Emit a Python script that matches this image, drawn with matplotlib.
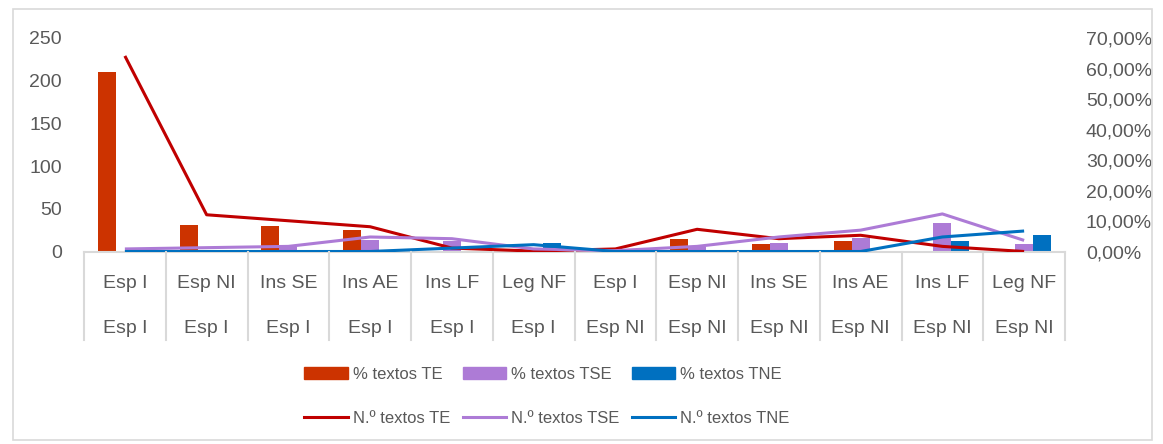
import matplotlib
matplotlib.use("Agg")
import matplotlib.pyplot as plt
import numpy as np
from matplotlib.lines import Line2D
from matplotlib.patches import Rectangle, Patch
from matplotlib.ticker import FuncFormatter
from matplotlib.transforms import blended_transform_factory

# --- data -------------------------------------------------------------
level1 = ["Esp I", "Esp NI", "Ins SE", "Ins AE", "Ins LF", "Leg NF",
          "Esp I", "Esp NI", "Ins SE", "Ins AE", "Ins LF", "Leg NF"]
level2 = ["Esp I"] * 6 + ["Esp NI"] * 6

pct_te = [58.8, 8.8, 8.5, 6.9, 0.3, 0.0, 0.0, 4.15, 2.6, 3.4, 0.3, 0.0]
pct_tse = [0.3, 0.5, 1.5, 3.7, 3.4, 0.4, 0.2, 1.4, 2.9, 4.5, 9.5, 2.6]
pct_tne = [0.0, 0.0, 0.0, 0.0, 0.0, 2.8, 0.0, 0.0, 0.0, 0.0, 3.5, 5.3]

n_te = [229, 43, 36, 29, 4, 0.5, 3, 26, 15, 19, 6, 0]
n_tse = [3, 4.5, 6, 17, 15, 3, 1, 6, 17, 25, 44, 13]
n_tne = [0, 0, 0, 0, 4, 8, 0, 0, 0, 0, 17, 24]

left_ticks = [0, 50, 100, 150, 200, 250]
right_ticks = [0, 10, 20, 30, 40, 50, 60, 70]

# --- style ------------------------------------------------------------
plt.rcParams["font.family"] = ["Liberation Sans", "DejaVu Sans"]
text_col = "#595959"
grid_col = "#D9D9D9"
c_te_bar, c_te_line = "#CC3300", "#C00000"
c_tse = "#AD7BD6"
c_tne = "#0070C0"
tick_fs = 14
leg_fs = 12

W, H = 1163, 444
fig = plt.figure(figsize=(W / 100, H / 100), dpi=100)

x0, x1 = 84, 1065
y_top, y_base = 38, 251.5
ax = fig.add_axes([x0 / W, 1 - y_base / H, (x1 - x0) / W, (y_base - y_top) / H])
ax2 = ax.twinx()
ax.set_zorder(ax2.get_zorder() + 1)
ax.patch.set_visible(False)

x = np.arange(len(level1))
bw = 0.22

# percentage bars on the right axis
ax2.bar(x - bw, pct_te, bw, color=c_te_bar, zorder=2)
ax2.bar(x, pct_tse, bw, color=c_tse, zorder=2)
ax2.bar(x + bw, pct_tne, bw, color=c_tne, zorder=2)

# counts as lines on the left axis
lw = 2.2
ax.plot(x, n_te, color=c_te_line, lw=lw, solid_capstyle="butt", zorder=3)
ax.plot(x, n_tse, color=c_tse, lw=lw, solid_capstyle="butt", zorder=3)
ax.plot(x, n_tne, color=c_tne, lw=lw, solid_capstyle="butt", zorder=4)

ax.set_xlim(-0.5, len(level1) - 0.5)
ax.set_ylim(0, 250)
ax2.set_ylim(0, 70)
ax.set_yticks(left_ticks)
ax2.set_yticks(right_ticks)
ax2.yaxis.set_major_formatter(FuncFormatter(lambda v, p: f"{v:.2f}".replace(".", ",") + "%"))
ax.set_xticks([])

for a in (ax, ax2):
    for s in a.spines.values():
        s.set_visible(False)
    a.tick_params(axis="both", length=0, labelsize=tick_fs, labelcolor=text_col)
ax.tick_params(axis="y", pad=16)
ax2.tick_params(axis="y", pad=15)

# category axis: baseline, dividers and two label rows
trans = blended_transform_factory(ax.transData, fig.transFigure)
fig.add_artist(Line2D([-0.5, len(level1) - 0.5], [1 - 252 / H] * 2, transform=trans,
                      color=grid_col, lw=1.5, zorder=1))
for b in np.arange(-0.5, len(level1), 1.0):
    fig.add_artist(Line2D([b, b], [1 - 252 / H, 1 - 340 / H], transform=trans,
                          color=grid_col, lw=1.5))
for i, (l1, l2) in enumerate(zip(level1, level2)):
    fig.text(i, 1 - 288 / H, l1, transform=trans, ha="center", va="baseline",
             fontsize=tick_fs, color=text_col)
    fig.text(i, 1 - 333 / H, l2, transform=trans, ha="center", va="baseline",
             fontsize=tick_fs, color=text_col)

# legend
handles = [
    Patch(color=c_te_bar), Line2D([], [], color=c_te_line, lw=lw),
    Patch(color=c_tse), Line2D([], [], color=c_tse, lw=lw),
    Patch(color=c_tne), Line2D([], [], color=c_tne, lw=lw),
]
labels = ["% textos TE", "N.º textos TE", "% textos TSE", "N.º textos TSE",
          "% textos TNE", "N.º textos TNE"]
fig.legend(handles, labels, ncol=3, loc="center", bbox_to_anchor=(547 / W, 1 - 396.5 / H),
           frameon=False, fontsize=leg_fs, labelcolor=text_col, handlelength=2.6,
           handleheight=0.72, handletextpad=0.3, columnspacing=0.75, labelspacing=1.75,
           borderpad=0, borderaxespad=0)

# chart frame
fig.add_artist(Rectangle((13 / W, 1 - 440 / H), (1152 - 13) / W, (440 - 9) / H,
                         transform=fig.transFigure, fill=False, ec=grid_col, lw=1.2))

fig.savefig("out.png", dpi=100)
